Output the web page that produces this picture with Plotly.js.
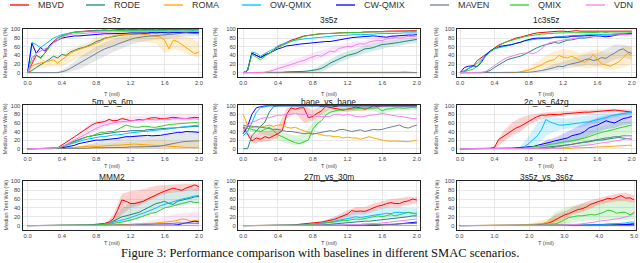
<!DOCTYPE html>
<html><head><meta charset="utf-8">
<script src="https://cdn.plot.ly/plotly-3.0.1.min.js"></script>
<style>html,body{margin:0;padding:0;background:#fff;}#chart{width:640px;height:263px;}</style>
</head><body><div id="chart"></div>
<script>
// ---------- axes / categories ----------
const T2 = [0,0.05,0.1,0.15,0.2,0.25,0.3,0.35,0.4,0.45,0.5,0.55,0.6,0.65,0.7,0.75,0.8,0.85,0.9,0.95,1,1.05,1.1,1.15,1.2,1.25,1.3,1.35,1.4,1.45,1.5,1.55,1.6,1.65,1.7,1.75,1.8,1.85,1.9,1.95,2];
const T5 = [0,0.125,0.25,0.375,0.5,0.625,0.75,0.875,1,1.125,1.25,1.375,1.5,1.625,1.75,1.875,2,2.125,2.25,2.375,2.5,2.625,2.75,2.875,3,3.125,3.25,3.375,3.5,3.625,3.75,3.875,4,4.125,4.25,4.375,4.5,4.625,4.75,4.875,5];
const TB2 = [0,0.1,0.2,0.3,0.4,0.5,0.6,0.7,0.8,0.9,1,1.1,1.2,1.3,1.4,1.5,1.6,1.7,1.8,1.9,2];
const TB5 = [0,0.25,0.5,0.75,1,1.25,1.5,1.75,2,2.25,2.5,2.75,3,3.25,3.5,3.75,4,4.25,4.5,4.75,5];
const xTicks2 = [0,0.4,0.8,1.2,1.6,2.0];
const xTickText2 = ['0.0','0.4','0.8','1.2','1.6','2.0'];
const xTicks5 = [0,1,2,3,4,5];
const xTickText5 = ['0.0','1.0','2.0','3.0','4.0','5.0'];
const yTicks = [0,20,40,60,80,100];
const seriesNames = ['MBVD','RODE','ROMA','OW-QMIX','CW-QMIX','MAVEN','QMIX','VDN'];
const seriesColors = ['#ff0000','#1a8a7a','#ffa500','#00bfff','#0000ff','#708090','#32cd32','#ee82ee'];
const scenarioNames = ['2s3z','3s5z','1c3s5z','5m_vs_6m','bane_vs_bane','2c_vs_64zg','MMM2','27m_vs_30m','3s5z_vs_3s6z'];

// ---------- 2s3z ----------
const w2s3z_MBVD = [0,20,40,35,45,60,72,80,85,88, 92,94,95,96,97,97,98,98,99,98, 99,99,100,99,100,100,99,100,100,100, 99,100,100,100,99,100,100,100,100,99, 100];
const w2s3z_RODE = [0,5,12,18,22,30,38,34,42,40, 48,52,56,58,62,66,72,75,80,82, 84,86,87,88,88,89,90,90,91,92, 92,93,93,94,94,93,94,95,95,94, 95];
const w2s3z_ROMA = [0,15,20,22,25,27,30,22,30,38, 45,50,54,57,60,64,68,72,78,82, 85,87,88,89,90,90,90,88,88,86, 85,82,75,55,75,72,65,58,50,44, 48];
const w2s3z_OWQ  = [0,70,65,58,65,72,80,84,88,90, 92,93,95,95,96,96,97,97,97,97, 97,98,97,97,98,97,97,97,98,97, 97,97,97,96,97,97,96,97,97,97, 96];
const w2s3z_CWQ  = [0,68,45,58,50,62,70,75,80,82, 84,85,85,86,87,88,88,89,90,90, 90,91,90,91,92,92,91,92,92,93, 92,93,92,92,93,93,92,93,93,92, 93];
const w2s3z_MAVEN= [0,0,0,0,0,0,0,0,2,5, 10,16,22,28,33,40,45,50,55,58, 62,66,70,74,77,80,82,83,84,85, 86,87,88,88,89,90,91,92,91,90, 90];
const w2s3z_QMIX = [0,35,42,32,45,58,70,80,85,88, 92,93,94,95,95,96,96,97,97,97, 98,98,98,98,98,99,98,99,98,99, 99,99,98,99,99,99,98,99,99,98, 99];
const w2s3z_VDN  = [0,25,45,50,55,60,68,75,82,86, 88,90,90,91,92,92,93,93,94,94, 94,95,95,95,95,95,96,95,96,96, 95,96,96,95,96,96,96,95,96,96, 95];
const b2s3z_ROMA_lo = [0,10,12,15,15,25,35,40,50,60,65,70,72,72,70,68,45,55,50,40,35];
const b2s3z_ROMA_hi = [0,25,30,38,42,55,62,70,82,90,92,95,96,96,95,94,92,90,85,80,70];
const b2s3z_MAVEN_lo = [0,0,0,0,0,2,8,18,28,38,48,56,64,70,74,76,78,80,82,84,84];
const b2s3z_MAVEN_hi = [0,0,0,0,6,18,35,48,60,70,78,84,88,90,92,93,94,95,96,96,96];

// ---------- 3s5z ----------
const w3s5z_MBVD = [0,5,45,40,35,42,45,52,60,65, 70,75,78,82,85,86,88,89,90,90, 91,91,92,92,93,92,93,93,94,94, 95,95,95,96,96,96,96,97,97,97, 97];
const w3s5z_RODE = [0,0,0,0,0,0,0,0,1,1, 2,2,3,3,3,4,5,7,10,15, 22,27,32,36,40,43,45,50,55,56, 58,62,65,66,67,69,70,72,74,75, 77];
const w3s5z_ROMA = [0,0,0,0,0,0,0,0,0,0, 0,0,0,0,0,0,0,0,0,0, 0,0,0,0,0,0,0,0,0,0, 0,0,0,0,0,0,1,2,1,1, 0];
const w3s5z_OWQ  = [0,5,48,45,38,45,50,55,62,66, 70,73,75,77,78,79,80,82,83,84, 85,85,86,86,87,87,88,88,88,89, 89,90,90,90,91,91,91,92,92,91, 92];
const w3s5z_CWQ  = [0,5,45,40,35,40,45,50,55,58, 62,63,65,66,67,68,70,70,71,72, 72,74,76,78,80,81,82,83,84,85, 85,84,83,82,84,85,86,86,87,87, 88];
const w3s5z_MAVEN= [0,0,0,0,0,0,0,0,0,0, 0,0,0,0,0,0,0,0,0,0, 0,0,0,0,0,0,0,0,0,0, 0,0,0,0,0,0,0,0,0,0, 0];
const w3s5z_QMIX = [0,5,42,35,30,38,45,50,58,63, 68,72,76,80,84,86,88,89,90,90, 91,91,92,92,92,93,93,93,94,94, 94,94,95,95,95,95,95,95,96,95, 96];
const w3s5z_VDN  = [0,0,0,0,0,1,3,6,10,12, 15,18,22,26,28,33,37,40,38,44, 50,48,56,58,61,60,65,67,66,71, 73,75,74,78,79,81,80,82,84,83, 85];
const b3s5z_RODE_lo = [0,0,0,0,0,0,0,0,0,2,12,22,32,38,45,50,55,60,62,66,70];
const b3s5z_RODE_hi = [0,0,0,0,0,0,0,3,8,18,30,42,50,55,62,68,72,75,78,80,82];
const b3s5z_VDN_lo = [0,0,0,0,5,8,14,20,28,35,42,48,54,58,60,66,68,72,74,78,80];
const b3s5z_VDN_hi = [0,0,0,6,16,24,32,38,46,52,58,64,68,72,74,80,82,86,87,90,90];

// ---------- 1c3s5z ----------
const w1c3s5z_MBVD = [0,2,10,15,28,35,42,50,58,64, 68,72,75,80,82,85,88,90,92,93, 94,95,95,96,96,95,96,97,96,96, 97,96,97,97,96,97,97,96,97,97, 96];
const w1c3s5z_RODE = [0,0,0,0,0,0,2,5,12,18, 25,30,33,35,38,42,48,52,58,62, 65,68,70,68,72,75,76,78,80,80, 82,83,84,85,86,88,89,90,91,92, 92];
const w1c3s5z_ROMA = [0,0,0,0,0,0,0,0,0,0, 0,0,0,0,2,4,6,10,14,18, 24,28,30,40,36,34,38,32,28,24, 30,42,30,20,18,15,20,25,35,45, 40];
const w1c3s5z_OWQ  = [0,5,10,15,22,32,42,50,55,58, 60,62,65,68,70,73,75,77,78,79, 80,82,83,84,85,85,86,86,87,87, 88,88,88,89,89,89,90,90,90,90, 90];
const w1c3s5z_CWQ  = [0,12,15,16,14,25,40,50,56,60, 62,63,65,68,70,74,77,79,80,80, 81,80,82,82,83,82,84,84,85,85, 86,86,85,84,83,84,86,88,88,89, 90];
const w1c3s5z_MAVEN= [0,0,0,0,0,0,0,0,0,0, 0,0,0,0,0,0,1,2,3,5, 7,9,12,15,14,18,20,22,25,30, 32,28,30,35,33,40,45,52,55,48, 45];
const w1c3s5z_QMIX = [0,2,5,8,15,28,38,48,55,62, 68,72,75,78,80,83,85,87,88,89, 90,91,91,92,92,92,92,93,93,93, 93,93,93,94,93,94,94,93,94,94, 94];
const w1c3s5z_VDN  = [0,0,0,0,0,1,3,10,18,25, 30,35,38,42,44,45,46,44,48,55, 65,70,72,74,75,77,78,80,81,82, 83,84,85,86,86,87,87,88,88,88, 88];
const b1c3s5z_ROMA_lo = [0,0,0,0,0,0,0,0,2,5,10,15,20,18,12,10,12,8,8,12,20];
const b1c3s5z_ROMA_hi = [0,0,0,0,0,0,0,4,12,25,40,50,55,52,45,50,55,45,48,60,62];
const b1c3s5z_MAVEN_lo = [0,0,0,0,0,0,0,0,0,0,2,5,8,12,15,18,15,20,30,35,30];
const b1c3s5z_MAVEN_hi = [0,0,0,0,0,0,0,0,0,2,12,20,25,32,40,45,45,55,65,65,60];

// ---------- 5m_vs_6m ----------
const w5m_MBVD = [0,0,0,0,0,0,1,2,8,15, 22,28,35,42,50,55,60,61,63,68, 65,66,70,68,65,66,68,67,70,72, 72,70,70,71,73,72,70,70,71,73, 72];
const w5m_RODE = [0,0,0,0,0,0,0,1,4,8, 14,18,22,25,28,30,32,34,35,36, 38,39,40,40,42,42,43,42,44,45, 45,46,47,48,48,49,50,50,51,52, 52];
const w5m_ROMA = [0,0,0,0,0,0,0,0,1,2, 2,3,4,5,5,6,5,6,7,8, 8,8,9,10,10,11,10,10,9,8, 8,7,7,6,5,5,4,3,3,2, 2];
const w5m_OWQ  = [0,0,0,0,0,0,1,2,5,8, 12,15,18,20,22,24,26,28,28,30, 32,32,33,35,37,38,38,40,41,42, 42,44,45,46,48,49,50,51,53,54, 55];
const w5m_CWQ  = [0,0,0,0,0,0,0,1,2,4, 6,8,12,14,17,19,20,20,21,22, 22,24,26,28,28,29,30,30,31,30, 30,31,33,34,36,38,38,40,40,39, 38];
const w5m_MAVEN= [0,0,0,0,0,0,0,0,0,0, 0,0,1,1,1,2,2,2,2,3, 3,3,3,3,4,4,4,4,5,5, 5,6,8,10,12,15,16,17,18,18, 18];
const w5m_QMIX = [0,0,0,0,0,0,0,2,5,8, 12,16,20,25,28,30,34,38,38,40, 40,45,50,55,52,50,50,52,52,50, 50,52,55,56,57,58,58,59,60,61, 60];
const w5m_VDN  = [0,0,0,0,0,0,1,2,5,10, 15,20,25,30,36,42,48,52,55,58, 60,62,63,64,65,66,66,67,68,68, 67,68,69,68,70,70,71,70,69,70, 68];
const b5m_ROMA_lo = [0,0,0,0,0,0,0,0,0,0,0,0,0,0,0,0,0,0,0,0,0];
const b5m_ROMA_hi = [0,0,0,0,2,5,8,10,12,12,14,15,16,18,20,22,20,18,15,18,15];
const b5m_VDN_lo = [0,0,0,0,0,5,15,30,42,50,55,58,60,62,62,63,62,64,65,64,63];
const b5m_VDN_hi = [0,0,0,0,2,15,35,55,65,70,72,74,75,76,78,78,80,80,80,80,80];
const b5m_MAVEN_lo = [0,0,0,0,0,0,0,0,0,0,0,0,0,0,0,0,0,0,0,0,0];
const b5m_MAVEN_hi = [0,0,0,0,0,2,5,10,15,20,25,28,30,32,30,30,32,35,38,40,42];

// ---------- bane_vs_bane ----------
const wbane_MBVD = [50,35,18,25,22,28,25,30,35,42, 80,95,92,95,95,72,75,82,88,98, 96,95,92,90,92,95,97,95,92,95, 100,98,100,100,100,100,100,100,100,100, 100];
const wbane_RODE = [0,0,30,42,52,62,85,98,100,100, 100,100,100,100,100,100,100,100,100,100, 100,100,100,100,100,100,100,100,100,100, 100,100,100,100,100,100,100,100,100,100, 100];
const wbane_ROMA = [80,55,52,50,50,52,55,52,55,55, 50,48,50,45,42,38,35,35,32,30, 30,28,28,25,27,25,25,22,25,28, 25,22,20,18,18,17,18,17,16,18, 20];
const wbane_OWQ  = [30,40,60,85,95,98,100,100,100,100, 100,100,100,100,100,100,100,100,100,100, 100,100,100,100,100,100,100,100,100,100, 100,100,100,100,100,100,100,100,100,100, 100];
const wbane_CWQ  = [35,52,80,95,98,100,100,100,100,100, 100,100,100,100,100,100,100,100,100,100, 100,100,100,100,100,100,100,100,100,100, 100,100,100,100,100,100,100,100,100,100, 100];
const wbane_MAVEN= [55,52,50,52,50,48,47,45,45,42, 40,40,38,36,35,36,34,36,38,40, 42,40,44,45,42,40,42,44,40,42, 45,44,45,48,50,52,55,50,48,52, 55];
const wbane_QMIX = [50,48,45,42,40,45,50,42,32,28, 22,18,14,12,16,20,45,58,65,78, 85,88,90,90,92,92,93,94,95,94, 95,95,88,92,93,95,95,94,95,96, 95];
const wbane_VDN  = [40,55,62,65,70,72,72,75,78,78, 80,80,82,80,80,80,78,75,75,75, 75,80,80,78,80,78,75,74,75,78, 78,80,82,80,78,77,75,74,72,70, 70];
const bbane_MBVD_lo = [45,12,15,18,25,70,85,60,65,80,92,88,85,88,88,92,95,96,96,96,96];
const bbane_MBVD_hi = [55,30,40,42,50,95,100,100,90,100,100,100,100,100,100,100,100,100,100,100,100];
const bbane_QMIX_lo = [45,40,35,30,20,12,8,10,30,70,82,85,88,88,90,88,80,88,90,90,90];
const bbane_QMIX_hi = [55,55,50,55,45,35,30,35,60,88,95,95,96,97,98,98,95,97,98,98,98];

// ---------- 2c_vs_64zg ----------
const w2c_MBVD = [0,0,0,0,0,0,0,1,3,22, 28,35,42,48,52,58,64,70,75,78, 78,80,80,79,81,82,82,83,84,85, 85,86,87,88,88,89,90,89,88,86, 85];
const w2c_RODE = [0,0,0,0,0,0,0,0,0,0, 0,0,0,0,0,0,0,0,1,2, 3,4,5,6,8,9,10,12,14,15, 16,18,20,20,22,24,25,26,25,24, 22];
const w2c_ROMA = [0,0,0,0,0,0,0,0,0,0, 0,0,0,0,0,0,0,0,0,0, 0,0,0,0,0,1,1,2,2,2, 3,3,4,4,5,5,6,6,7,8, 8];
const w2c_OWQ  = [0,0,0,0,0,0,0,0,0,0, 0,0,0,1,3,5,12,20,30,45, 68,62,58,55,55,56,57,58,60,62, 62,65,68,70,72,76,78,80,82,84, 85];
const w2c_CWQ  = [0,0,0,0,0,0,0,0,0,0, 0,0,1,2,2,3,5,5,8,10, 12,15,18,20,22,25,30,32,35,40, 48,52,55,60,65,62,60,65,70,72, 75];
const w2c_MAVEN= [0,0,0,0,0,0,0,0,0,0, 0,0,0,0,0,0,0,0,0,0, 0,2,3,5,7,8,10,12,14,16, 18,20,22,23,25,26,28,28,30,30, 30];
const w2c_QMIX = [0,0,0,0,0,0,0,0,0,0, 0,0,0,0,1,2,3,4,5,6, 8,10,12,14,15,17,18,20,22,25, 28,32,35,38,40,42,45,48,50,52, 55];
const w2c_VDN  = [0,0,0,0,0,0,0,0,0,0, 0,0,0,0,0,0,0,0,0,0, 0,0,0,1,2,3,4,5,6,8, 9,10,12,14,15,16,18,20,22,24, 25];
const b2c_MBVD_lo = [0,0,0,0,0,15,30,40,55,65,72,75,76,78,80,82,84,85,86,85,82];
const b2c_MBVD_hi = [0,0,0,0,5,40,60,72,78,82,85,86,88,88,90,90,92,92,93,92,90];
const b2c_OWQ_lo = [0,0,0,0,0,0,0,0,2,10,30,40,45,48,50,55,60,68,72,78,80];
const b2c_OWQ_hi = [0,0,0,0,0,0,0,5,30,60,75,72,70,72,75,78,82,85,88,88,90];
const b2c_CWQ_lo = [0,0,0,0,0,0,0,0,0,0,3,8,12,15,20,30,38,45,48,55,58];
const b2c_CWQ_hi = [0,0,0,0,0,0,0,0,2,5,20,25,35,45,55,65,72,78,80,85,85];
const b2c_QMIX_lo = [0,0,0,0,0,0,0,0,0,0,0,0,2,5,8,10,15,20,25,30,35];
const b2c_QMIX_hi = [0,0,0,0,0,0,0,0,0,2,10,15,20,28,35,42,50,55,60,62,65];

// ---------- MMM2 ----------
const wMMM2_MBVD = [0,0,0,0,0,0,0,0,0,0, 0,0,0,0,1,2,3,4,5,8, 15,35,58,55,50,50,52,55,60,65, 70,74,78,82,85,82,80,85,88,92, 88];
const wMMM2_RODE = [0,0,0,0,0,0,0,0,0,0, 0,0,0,0,0,0,1,2,3,5, 10,15,20,22,25,28,30,35,40,45, 50,52,55,50,48,55,58,60,62,65, 66];
const wMMM2_ROMA = [0,0,0,0,0,0,0,0,0,0, 0,0,0,0,0,0,0,0,0,0, 1,2,2,3,3,4,4,5,5,5, 6,7,8,8,10,12,15,14,10,11, 12];
const wMMM2_OWQ  = [0,0,0,0,0,0,0,0,0,0, 0,0,0,0,0,0,1,2,3,5, 8,10,12,15,18,22,25,28,32,35, 40,45,48,52,55,58,60,62,65,67, 68];
const wMMM2_CWQ  = [0,0,0,0,0,0,0,0,0,0, 0,0,0,0,0,0,0,0,0,0, 0,0,0,0,0,0,0,0,0,0, 0,0,0,0,1,2,4,6,9,10, 8];
const wMMM2_MAVEN= [0,0,0,0,0,0,0,0,0,0, 0,0,0,0,0,0,0,0,0,0, 0,0,0,0,1,1,2,2,3,3, 4,4,5,5,5,6,6,5,5,5, 5];
const wMMM2_QMIX = [0,0,0,0,0,0,0,0,0,0, 0,0,0,0,0,0,1,2,2,3, 5,6,8,10,12,15,18,22,25,28, 30,35,40,42,45,48,50,52,55,52, 52];
const wMMM2_VDN  = [0,0,0,0,0,0,0,0,0,0, 0,0,0,0,0,0,0,0,0,0, 0,0,0,0,0,0,0,0,0,0, 0,0,0,0,0,0,0,0,0,0, 0];
const bMMM2_MBVD_lo = [0,0,0,0,0,0,0,0,0,0,5,25,40,45,55,65,72,75,78,80,78];
const bMMM2_MBVD_hi = [0,0,0,0,0,0,0,0,0,3,25,72,78,80,85,90,92,94,95,95,95];
const bMMM2_RODE_lo = [0,0,0,0,0,0,0,0,0,0,0,5,10,18,25,32,40,45,45,50,52];
const bMMM2_RODE_hi = [0,0,0,0,0,0,0,0,0,2,15,40,50,55,62,70,75,78,80,82,85];
const bMMM2_VDN_lo = [0,0,0,0,0,0,0,0,0,0,0,0,0,0,0,0,0,0,0,0,0];
const bMMM2_VDN_hi = [0,0,0,0,0,0,0,0,0,0,0,0,2,5,10,15,20,25,28,30,32];

// ---------- 27m_vs_30m ----------
const w27m_MBVD = [0,0,0,0,0,0,0,0,0,0, 1,1,2,3,3,4,5,6,8,10, 12,14,18,22,26,34,32,33,32,36, 40,44,46,50,52,50,50,54,56,60, 58];
const w27m_RODE = [0,0,0,0,0,0,0,0,0,0, 0,0,0,0,0,0,0,0,1,2, 3,4,5,6,7,8,8,9,10,10, 11,12,13,14,15,16,18,19,20,22, 22];
const w27m_ROMA = [0,0,0,0,0,0,0,0,0,0, 0,0,0,0,0,0,0,0,0,0, 0,0,0,0,0,0,0,0,0,0, 0,0,0,0,0,0,0,0,0,0, 0];
const w27m_OWQ  = [0,0,0,0,0,0,0,0,0,0, 0,0,0,0,1,2,3,4,5,6, 8,10,12,15,16,18,20,18,20,22, 24,25,26,28,27,30,30,29,30,28, 28];
const w27m_CWQ  = [0,0,0,0,0,0,0,0,0,0, 0,0,0,0,0,0,0,0,0,0, 0,0,0,0,0,0,0,0,0,0, 1,1,2,2,3,3,4,5,6,8, 8];
const w27m_MAVEN= [0,0,0,0,0,0,0,0,0,0, 0,0,0,0,0,0,0,0,0,0, 0,0,0,0,0,0,1,1,1,2, 2,2,3,3,3,3,4,4,4,5, 5];
const w27m_QMIX = [0,0,0,0,0,0,0,0,0,0, 0,0,0,0,1,2,3,4,5,5, 6,8,10,12,12,14,15,14,16,18, 20,22,20,22,25,22,25,28,30,28, 26];
const w27m_VDN  = [0,0,0,0,0,0,0,0,0,0, 0,0,0,0,0,0,0,0,0,0, 0,0,1,1,2,2,3,3,4,4, 5,5,6,7,8,9,10,11,12,14, 15];
const b27m_MBVD_lo = [0,0,0,0,0,0,0,0,0,0,8,12,20,25,25,32,38,42,42,48,50];
const b27m_MBVD_hi = [0,0,0,0,0,0,2,4,6,10,16,25,35,42,42,50,55,60,62,66,65];
const b27m_OWQ_lo = [0,0,0,0,0,0,0,0,0,0,2,5,8,10,12,15,18,18,20,20,18];
const b27m_OWQ_hi = [0,0,0,0,0,0,0,2,5,8,15,22,28,32,35,38,40,42,42,40,40];

// ---------- 3s5z_vs_3s6z ----------
const w3s6z_MBVD = [0,0,0,0,0,0,0,0,0,0, 0,0,0,0,0,0,1,1,2,3, 5,8,14,18,24,27,32,36,38,42, 48,52,55,58,62,60,64,68,62,63, 58];
const w3s6z_RODE = [0,0,0,0,0,0,0,0,0,0, 0,0,0,0,0,0,0,0,0,0, 0,0,0,0,0,0,0,0,0,0, 0,0,1,1,1,2,2,3,3,4, 5];
const w3s6z_ROMA = [0,0,0,0,0,0,0,0,0,0, 0,0,0,0,1,2,2,3,4,5, 6,5,3,2,1,0,0,0,0,0, 0,0,0,0,0,0,0,0,0,0, 0];
const w3s6z_OWQ  = [0,0,0,0,0,0,0,0,0,0, 0,0,0,0,0,0,0,0,0,0, 0,0,0,0,0,0,0,0,1,1, 2,2,3,3,4,4,5,5,6,8, 8];
const w3s6z_CWQ  = [0,0,0,0,0,0,0,0,0,0, 0,0,0,0,0,0,0,0,0,0, 0,0,0,0,0,0,0,0,0,0, 0,0,0,0,1,1,1,2,2,2, 3];
const w3s6z_MAVEN= [0,0,0,0,0,0,0,0,0,0, 0,0,0,0,0,0,0,0,0,0, 0,0,0,0,0,0,0,0,0,0, 0,0,0,0,0,0,0,0,0,0, 0];
const w3s6z_QMIX = [0,0,0,0,0,0,0,0,0,0, 0,0,0,0,0,0,0,0,0,0, 1,2,4,8,14,18,20,22,22,24, 25,24,27,30,35,33,28,30,30,24, 30];
const w3s6z_VDN  = [0,0,0,0,0,0,0,0,0,0, 0,0,0,0,0,0,0,0,0,0, 0,0,0,0,1,2,2,3,4,5, 6,8,10,11,12,14,15,17,20,22, 28];
const b3s6z_MBVD_lo = [0,0,0,0,0,0,0,0,0,0,2,8,15,25,30,38,48,52,55,55,52];
const b3s6z_MBVD_hi = [0,0,0,0,0,0,0,0,0,0,10,25,32,42,50,58,62,68,72,75,68];
const b3s6z_QMIX_lo = [0,0,0,0,0,0,0,0,0,0,0,2,5,8,10,12,12,15,15,12,15];
const b3s6z_QMIX_hi = [0,0,0,0,0,0,0,0,0,2,10,30,40,45,50,52,55,60,62,58,55];
const b3s6z_ROMA_lo = [0,0,0,0,0,0,0,0,0,0,0,0,0,0,0,0,0,0,0,0,0];
const b3s6z_ROMA_hi = [0,0,0,0,0,0,0,2,5,10,15,18,10,5,2,0,0,0,0,0,0];

// ---------- assemble (series order = seriesNames) ----------
const panels = [
  {t:T2, tb:TB2, xt:xTicks2, xtt:xTickText2, xr:[-0.06,2.03],
   lines:[w2s3z_MBVD,w2s3z_RODE,w2s3z_ROMA,w2s3z_OWQ,w2s3z_CWQ,w2s3z_MAVEN,w2s3z_QMIX,w2s3z_VDN],
   bands:[[2,b2s3z_ROMA_lo,b2s3z_ROMA_hi],[5,b2s3z_MAVEN_lo,b2s3z_MAVEN_hi]]},
  {t:T2, tb:TB2, xt:xTicks2, xtt:xTickText2, xr:[-0.06,2.03],
   lines:[w3s5z_MBVD,w3s5z_RODE,w3s5z_ROMA,w3s5z_OWQ,w3s5z_CWQ,w3s5z_MAVEN,w3s5z_QMIX,w3s5z_VDN],
   bands:[[1,b3s5z_RODE_lo,b3s5z_RODE_hi],[7,b3s5z_VDN_lo,b3s5z_VDN_hi]]},
  {t:T2, tb:TB2, xt:xTicks2, xtt:xTickText2, xr:[-0.04,2.05],
   lines:[w1c3s5z_MBVD,w1c3s5z_RODE,w1c3s5z_ROMA,w1c3s5z_OWQ,w1c3s5z_CWQ,w1c3s5z_MAVEN,w1c3s5z_QMIX,w1c3s5z_VDN],
   bands:[[2,b1c3s5z_ROMA_lo,b1c3s5z_ROMA_hi],[5,b1c3s5z_MAVEN_lo,b1c3s5z_MAVEN_hi]]},
  {t:T2, tb:TB2, xt:xTicks2, xtt:xTickText2, xr:[-0.06,2.03],
   lines:[w5m_MBVD,w5m_RODE,w5m_ROMA,w5m_OWQ,w5m_CWQ,w5m_MAVEN,w5m_QMIX,w5m_VDN],
   bands:[[5,b5m_MAVEN_lo,b5m_MAVEN_hi],[2,b5m_ROMA_lo,b5m_ROMA_hi],[7,b5m_VDN_lo,b5m_VDN_hi]]},
  {t:T2, tb:TB2, xt:xTicks2, xtt:xTickText2, xr:[-0.06,2.03],
   lines:[wbane_MBVD,wbane_RODE,wbane_ROMA,wbane_OWQ,wbane_CWQ,wbane_MAVEN,wbane_QMIX,wbane_VDN],
   bands:[[0,bbane_MBVD_lo,bbane_MBVD_hi],[6,bbane_QMIX_lo,bbane_QMIX_hi]]},
  {t:T2, tb:TB2, xt:xTicks2, xtt:xTickText2, xr:[-0.04,2.05],
   lines:[w2c_MBVD,w2c_RODE,w2c_ROMA,w2c_OWQ,w2c_CWQ,w2c_MAVEN,w2c_QMIX,w2c_VDN],
   bands:[[0,b2c_MBVD_lo,b2c_MBVD_hi],[3,b2c_OWQ_lo,b2c_OWQ_hi],[4,b2c_CWQ_lo,b2c_CWQ_hi],[6,b2c_QMIX_lo,b2c_QMIX_hi]]},
  {t:T2, tb:TB2, xt:xTicks2, xtt:xTickText2, xr:[-0.06,2.03],
   lines:[wMMM2_MBVD,wMMM2_RODE,wMMM2_ROMA,wMMM2_OWQ,wMMM2_CWQ,wMMM2_MAVEN,wMMM2_QMIX,wMMM2_VDN],
   bands:[[0,bMMM2_MBVD_lo,bMMM2_MBVD_hi],[1,bMMM2_RODE_lo,bMMM2_RODE_hi],[7,bMMM2_VDN_lo,bMMM2_VDN_hi]]},
  {t:T2, tb:TB2, xt:xTicks2, xtt:xTickText2, xr:[-0.06,2.03],
   lines:[w27m_MBVD,w27m_RODE,w27m_ROMA,w27m_OWQ,w27m_CWQ,w27m_MAVEN,w27m_QMIX,w27m_VDN],
   bands:[[0,b27m_MBVD_lo,b27m_MBVD_hi],[3,b27m_OWQ_lo,b27m_OWQ_hi]]},
  {t:T5, tb:TB5, xt:xTicks5, xtt:xTickText5, xr:[-0.08,5.05],
   lines:[w3s6z_MBVD,w3s6z_RODE,w3s6z_ROMA,w3s6z_OWQ,w3s6z_CWQ,w3s6z_MAVEN,w3s6z_QMIX,w3s6z_VDN],
   bands:[[2,b3s6z_ROMA_lo,b3s6z_ROMA_hi],[6,b3s6z_QMIX_lo,b3s6z_QMIX_hi],[0,b3s6z_MBVD_lo,b3s6z_MBVD_hi]]}
];

// ---------- layout geometry (pixels) ----------
const W = 640, H = 263;
const COLS = [[22.5,201.5],[238,419.5],[456.7,636]];
const ROWS = [[29,77],[105.3,153],[181,230]];
const TITLE_Y = [20,101.6,177];
const XLAB_Y = [94,165.8,243];
const YLAB_X = [5,215,436];
const LEG_X = [10,86,164,242,336,430,510,586];
const LEG_Y = 5;
const FONT = 'Liberation Sans, Arial, sans-serif';

function rgba(hex, a){const n=parseInt(hex.slice(1),16);return 'rgba('+((n>>16)&255)+','+((n>>8)&255)+','+(n&255)+','+a+')';}

const traces = [];
const layout = {
  width:W, height:H, margin:{l:0,r:0,t:0,b:0}, showlegend:false,
  paper_bgcolor:'#ffffff', plot_bgcolor:'#ffffff',
  font:{family:FONT, color:'#333'}, annotations:[], shapes:[]
};

panels.forEach((p,k)=>{
  const r = Math.floor(k/3), c = k%3;
  const s = k===0 ? '' : String(k+1);
  p.bands.forEach(b=>{
    const col = seriesColors[b[0]];
    traces.push({type:'scatter',mode:'lines',x:p.tb,y:b[1],xaxis:'x'+s,yaxis:'y'+s,line:{width:0,color:col},hoverinfo:'skip',showlegend:false});
    traces.push({type:'scatter',mode:'lines',x:p.tb,y:b[2],xaxis:'x'+s,yaxis:'y'+s,line:{width:0,color:col},fill:'tonexty',fillcolor:rgba(col,0.18),hoverinfo:'skip',showlegend:false});
  });
  p.lines.forEach((ys,i)=>{
    traces.push({type:'scatter',mode:'lines',name:seriesNames[i],x:p.t,y:ys,xaxis:'x'+s,yaxis:'y'+s,line:{width:1,color:seriesColors[i]},showlegend:false});
  });
  const axCommon = {showgrid:true,gridcolor:'#e2e2e2',gridwidth:0.8,zeroline:false,showline:true,mirror:true,linecolor:'#222',linewidth:1,
    tickfont:{size:5.8,color:'#444',family:FONT},ticks:'',fixedrange:true};
  layout['xaxis'+s] = Object.assign({},axCommon,{domain:[COLS[c][0]/W,COLS[c][1]/W],anchor:'y'+s,range:p.xr,tickvals:p.xt,ticktext:p.xtt,tickmode:'array'});
  layout['yaxis'+s] = Object.assign({},axCommon,{domain:[1-ROWS[r][1]/H,1-ROWS[r][0]/H],anchor:'x'+s,range:[-10,101],tickvals:yTicks,tickmode:'array'});
  const cx = (COLS[c][0]+COLS[c][1])/2/W;
  layout.annotations.push({xref:'paper',yref:'paper',x:cx,y:1-TITLE_Y[r]/H,text:scenarioNames[k],showarrow:false,xanchor:'center',yanchor:'middle',borderpad:0,font:{size:8.4,color:'#222',family:FONT}});
  layout.annotations.push({xref:'paper',yref:'paper',x:cx,y:1-XLAB_Y[r]/H,text:'T (mil)',showarrow:false,xanchor:'center',yanchor:'middle',borderpad:0,font:{size:5.6,color:'#444',family:FONT}});
  layout.annotations.push({xref:'paper',yref:'paper',x:YLAB_X[c]/W,y:1-(ROWS[r][0]+ROWS[r][1])/2/H,text:'Median Test Win (%)',textangle:-90,showarrow:false,xanchor:'center',yanchor:'middle',borderpad:0,font:{size:5.5,color:'#444',family:FONT}});
});

// legend
seriesNames.forEach((nm,i)=>{
  layout.shapes.push({type:'line',xref:'paper',yref:'paper',x0:LEG_X[i]/W,x1:(LEG_X[i]+19)/W,y0:1-LEG_Y/H,y1:1-LEG_Y/H,line:{color:seriesColors[i],width:1.3}});
  layout.annotations.push({xref:'paper',yref:'paper',x:(LEG_X[i]+26)/W,y:1-LEG_Y/H,text:nm,showarrow:false,xanchor:'left',yanchor:'middle',font:{size:9,color:'#333',family:FONT}});
});

// caption
layout.annotations.push({xref:'paper',yref:'paper',x:0.5,y:1-253/H,text:'Figure 3: Performance comparison with baselines in different SMAC scenarios.',showarrow:false,xanchor:'center',yanchor:'middle',font:{size:12.5,color:'#111',family:'Liberation Serif, Times New Roman, serif'}});

Plotly.newPlot('chart', traces, layout, {displayModeBar:false, staticPlot:true});
</script>
</body></html>
